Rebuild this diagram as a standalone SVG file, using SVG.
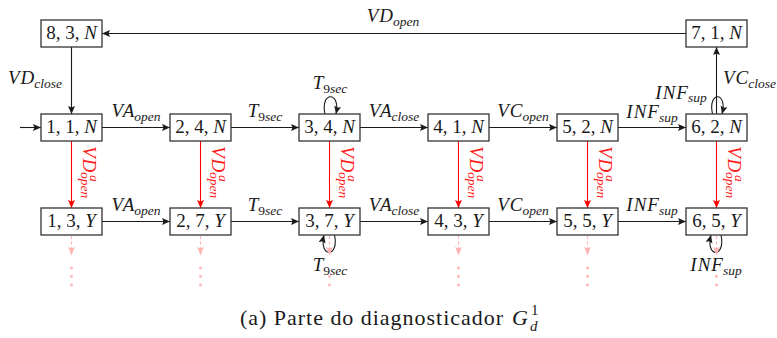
<svg xmlns="http://www.w3.org/2000/svg" width="777" height="338" viewBox="0 0 777 338">
<defs>
<style>
svg text, svg g text, svg text tspan { font-family: "Liberation Serif", "Times New Roman", serif !important; }
</style>
<marker id="ah" markerUnits="userSpaceOnUse" markerWidth="9" markerHeight="8" refX="8" refY="3.5" orient="auto"><path d="M0,0 L8,3.5 L0,7 L1.5,3.5 z" fill="#1a1a1a"/></marker>
<marker id="ahr" markerUnits="userSpaceOnUse" markerWidth="9" markerHeight="8" refX="8" refY="3.5" orient="auto"><path d="M0,0 L8,3.5 L0,7 L1.5,3.5 z" fill="#ff0000"/></marker>
<marker id="ahp" markerUnits="userSpaceOnUse" markerWidth="9" markerHeight="8" refX="8" refY="3.5" orient="auto"><path d="M0,0 L8,3.5 L0,7 L1.5,3.5 z" fill="#ffb3b3"/></marker>
</defs>
<g id="edges">
<g fill="none" stroke="#1a1a1a" stroke-width="1.1" marker-end="url(#ah)">
<line x1="686" y1="33.5" x2="102" y2="33.5"/>
<line x1="71.5" y1="47" x2="71.5" y2="114"/>
<line x1="20" y1="127.5" x2="41" y2="127.5"/>
<line x1="716.5" y1="114" x2="716.5" y2="47"/>
<line x1="102" y1="127.5" x2="170" y2="127.5"/>
<line x1="231" y1="127.5" x2="299" y2="127.5"/>
<line x1="360" y1="127.5" x2="428" y2="127.5"/>
<line x1="489" y1="127.5" x2="557" y2="127.5"/>
<line x1="618" y1="127.5" x2="686" y2="127.5"/>
<line x1="102" y1="221.5" x2="170" y2="221.5"/>
<line x1="231" y1="221.5" x2="299" y2="221.5"/>
<line x1="360" y1="221.5" x2="428" y2="221.5"/>
<line x1="489" y1="221.5" x2="557" y2="221.5"/>
<line x1="618" y1="221.5" x2="686" y2="221.5"/>
<path d="M325,114 C320,91 341,91 336,114"/>
<path d="M712.5,114 C707.5,91 728,91 722,114"/>
<path d="M334.5,235 C339.5,258 318.5,258 324,235"/>
<path d="M721,235 C726,258 705,258 711,235"/>
</g>
<g fill="none" stroke="#ff0000" stroke-width="1.1" marker-end="url(#ahr)">
<line x1="71.5" y1="141" x2="71.5" y2="208"/>
<line x1="200.5" y1="141" x2="200.5" y2="208"/>
<line x1="329.5" y1="141" x2="329.5" y2="208"/>
<line x1="458.5" y1="141" x2="458.5" y2="208"/>
<line x1="587.5" y1="141" x2="587.5" y2="208"/>
<line x1="716.5" y1="141" x2="716.5" y2="208"/>
</g>
<g fill="none" stroke="#ffb3b3" stroke-width="1.1" stroke-dasharray="3 2.5" marker-end="url(#ahp)">
<line x1="71.5" y1="236" x2="71.5" y2="255"/>
<line x1="200.5" y1="236" x2="200.5" y2="255"/>
<line x1="329.5" y1="236" x2="329.5" y2="255"/>
<line x1="458.5" y1="236" x2="458.5" y2="255"/>
<line x1="587.5" y1="236" x2="587.5" y2="255"/>
<line x1="716.5" y1="236" x2="716.5" y2="255"/>
</g>
<g fill="#ffb3b3">
<circle cx="71.5" cy="268" r="1.4"/><circle cx="71.5" cy="276.5" r="1.4"/><circle cx="71.5" cy="285" r="1.4"/>
<circle cx="200.5" cy="268" r="1.4"/><circle cx="200.5" cy="276.5" r="1.4"/><circle cx="200.5" cy="285" r="1.4"/>
<circle cx="329.5" cy="276.5" r="1.4"/><circle cx="329.5" cy="285" r="1.4"/>
<circle cx="458.5" cy="268" r="1.4"/><circle cx="458.5" cy="276.5" r="1.4"/><circle cx="458.5" cy="285" r="1.4"/>
<circle cx="587.5" cy="268" r="1.4"/><circle cx="587.5" cy="276.5" r="1.4"/><circle cx="587.5" cy="285" r="1.4"/>
<circle cx="716.5" cy="276.5" r="1.4"/><circle cx="716.5" cy="285" r="1.4"/>
</g>
</g>

<g id="edge-labels" fill="#1a1a1a" font-size="19" font-family="Liberation Serif">
<text font-family="Liberation Serif" x="393" y="22" text-anchor="middle"><tspan font-style="italic">V</tspan><tspan font-style="italic" dx="1">D</tspan><tspan font-size="13.5" font-style="italic" dy="4">open</tspan></text>
<text font-family="Liberation Serif" x="8" y="84"><tspan font-style="italic">V</tspan><tspan font-style="italic" dx="1">D</tspan><tspan font-size="13.5" font-style="italic" dy="4">close</tspan></text>
<text font-family="Liberation Serif" x="723" y="84"><tspan font-style="italic">V</tspan><tspan font-style="italic" dx="1">C</tspan><tspan font-size="13.5" font-style="italic" dy="4">close</tspan></text>
<text font-family="Liberation Serif" x="136" y="117" text-anchor="middle"><tspan font-style="italic">V</tspan><tspan font-style="italic" dx="1">A</tspan><tspan font-size="13.5" font-style="italic" dy="4">open</tspan></text>
<text font-family="Liberation Serif" x="265" y="117" text-anchor="middle"><tspan font-style="italic">T</tspan><tspan font-size="13.5" dy="4">9</tspan><tspan font-size="13.5" font-style="italic">sec</tspan></text>
<text font-family="Liberation Serif" x="394" y="117" text-anchor="middle"><tspan font-style="italic">V</tspan><tspan font-style="italic" dx="1">A</tspan><tspan font-size="13.5" font-style="italic" dy="4">close</tspan></text>
<text font-family="Liberation Serif" x="523" y="117" text-anchor="middle"><tspan font-style="italic">V</tspan><tspan font-style="italic" dx="1">C</tspan><tspan font-size="13.5" font-style="italic" dy="4">open</tspan></text>
<text font-family="Liberation Serif" x="652" y="118" text-anchor="middle"><tspan font-style="italic">I</tspan><tspan font-style="italic" dx="1">N</tspan><tspan font-style="italic" dx="1">F</tspan><tspan font-size="13.5" font-style="italic" dy="4">sup</tspan></text>
<text font-family="Liberation Serif" x="136" y="211" text-anchor="middle"><tspan font-style="italic">V</tspan><tspan font-style="italic" dx="1">A</tspan><tspan font-size="13.5" font-style="italic" dy="4">open</tspan></text>
<text font-family="Liberation Serif" x="265" y="211" text-anchor="middle"><tspan font-style="italic">T</tspan><tspan font-size="13.5" dy="4">9</tspan><tspan font-size="13.5" font-style="italic">sec</tspan></text>
<text font-family="Liberation Serif" x="394" y="211" text-anchor="middle"><tspan font-style="italic">V</tspan><tspan font-style="italic" dx="1">A</tspan><tspan font-size="13.5" font-style="italic" dy="4">close</tspan></text>
<text font-family="Liberation Serif" x="523" y="211" text-anchor="middle"><tspan font-style="italic">V</tspan><tspan font-style="italic" dx="1">C</tspan><tspan font-size="13.5" font-style="italic" dy="4">open</tspan></text>
<text font-family="Liberation Serif" x="652" y="211" text-anchor="middle"><tspan font-style="italic">I</tspan><tspan font-style="italic" dx="1">N</tspan><tspan font-style="italic" dx="1">F</tspan><tspan font-size="13.5" font-style="italic" dy="4">sup</tspan></text>
<text font-family="Liberation Serif" x="330" y="89" text-anchor="middle"><tspan font-style="italic">T</tspan><tspan font-size="13.5" dy="4">9</tspan><tspan font-size="13.5" font-style="italic">sec</tspan></text>
<text font-family="Liberation Serif" x="681" y="99" text-anchor="middle"><tspan font-style="italic">I</tspan><tspan font-style="italic" dx="1">N</tspan><tspan font-style="italic" dx="1">F</tspan><tspan font-size="13.5" font-style="italic" dy="3">sup</tspan></text>
<text font-family="Liberation Serif" x="330" y="271" text-anchor="middle"><tspan font-style="italic">T</tspan><tspan font-size="13.5" dy="4">9</tspan><tspan font-size="13.5" font-style="italic">sec</tspan></text>
<text font-family="Liberation Serif" x="716" y="271" text-anchor="middle"><tspan font-style="italic">I</tspan><tspan font-style="italic" dx="1">N</tspan><tspan font-style="italic" dx="1">F</tspan><tspan font-size="13.5" font-style="italic" dy="4">sup</tspan></text>
</g>

<g id="diag-labels" fill="#ff1a1a" font-style="italic" font-family="Liberation Serif">
<g transform="translate(83,146) rotate(90)"><text font-family="Liberation Serif" font-size="19">V<tspan dx="1">D</tspan></text><text font-family="Liberation Serif" font-size="13.5" x="29" y="-7">a</text><text font-family="Liberation Serif" font-size="13.5" x="26" y="2.5">open</text></g>
<g transform="translate(212,146) rotate(90)"><text font-family="Liberation Serif" font-size="19">V<tspan dx="1">D</tspan></text><text font-family="Liberation Serif" font-size="13.5" x="29" y="-7">a</text><text font-family="Liberation Serif" font-size="13.5" x="26" y="2.5">open</text></g>
<g transform="translate(341,146) rotate(90)"><text font-family="Liberation Serif" font-size="19">V<tspan dx="1">D</tspan></text><text font-family="Liberation Serif" font-size="13.5" x="29" y="-7">a</text><text font-family="Liberation Serif" font-size="13.5" x="26" y="2.5">open</text></g>
<g transform="translate(470,146) rotate(90)"><text font-family="Liberation Serif" font-size="19">V<tspan dx="1">D</tspan></text><text font-family="Liberation Serif" font-size="13.5" x="29" y="-7">a</text><text font-family="Liberation Serif" font-size="13.5" x="26" y="2.5">open</text></g>
<g transform="translate(599,146) rotate(90)"><text font-family="Liberation Serif" font-size="19">V<tspan dx="1">D</tspan></text><text font-family="Liberation Serif" font-size="13.5" x="29" y="-7">a</text><text font-family="Liberation Serif" font-size="13.5" x="26" y="2.5">open</text></g>
<g transform="translate(728,146) rotate(90)"><text font-family="Liberation Serif" font-size="19">V<tspan dx="1">D</tspan></text><text font-family="Liberation Serif" font-size="13.5" x="29" y="-7">a</text><text font-family="Liberation Serif" font-size="13.5" x="26" y="2.5">open</text></g>
</g>

<g id="nodes" font-size="19" text-anchor="middle" font-family="Liberation Serif">
<g id="n83N"><rect x="41" y="20" width="61" height="27" fill="#fff" stroke="#333" stroke-width="1.3"/><text font-family="Liberation Serif" fill="#1a1a1a" x="71.5" y="39">8, 3, <tspan font-style="italic">N</tspan></text></g>
<g id="n71N"><rect x="686" y="20" width="61" height="27" fill="#fff" stroke="#333" stroke-width="1.3"/><text font-family="Liberation Serif" fill="#1a1a1a" x="716.5" y="39">7, 1, <tspan font-style="italic">N</tspan></text></g>
<g id="n11N"><rect x="41" y="114" width="61" height="27" fill="#fff" stroke="#333" stroke-width="1.3"/><text font-family="Liberation Serif" fill="#1a1a1a" x="71.5" y="133">1, 1, <tspan font-style="italic">N</tspan></text></g>
<g id="n24N"><rect x="170" y="114" width="61" height="27" fill="#fff" stroke="#333" stroke-width="1.3"/><text font-family="Liberation Serif" fill="#1a1a1a" x="200.5" y="133">2, 4, <tspan font-style="italic">N</tspan></text></g>
<g id="n34N"><rect x="299" y="114" width="61" height="27" fill="#fff" stroke="#333" stroke-width="1.3"/><text font-family="Liberation Serif" fill="#1a1a1a" x="329.5" y="133">3, 4, <tspan font-style="italic">N</tspan></text></g>
<g id="n41N"><rect x="428" y="114" width="61" height="27" fill="#fff" stroke="#333" stroke-width="1.3"/><text font-family="Liberation Serif" fill="#1a1a1a" x="458.5" y="133">4, 1, <tspan font-style="italic">N</tspan></text></g>
<g id="n52N"><rect x="557" y="114" width="61" height="27" fill="#fff" stroke="#333" stroke-width="1.3"/><text font-family="Liberation Serif" fill="#1a1a1a" x="587.5" y="133">5, 2, <tspan font-style="italic">N</tspan></text></g>
<g id="n62N"><rect x="686" y="114" width="61" height="27" fill="#fff" stroke="#333" stroke-width="1.3"/><text font-family="Liberation Serif" fill="#1a1a1a" x="716.5" y="133">6, 2, <tspan font-style="italic">N</tspan></text></g>
<g id="n13Y"><rect x="41" y="208" width="61" height="27" fill="#fff" stroke="#333" stroke-width="1.3"/><text font-family="Liberation Serif" fill="#1a1a1a" x="71.5" y="227">1, 3, <tspan font-style="italic">Y</tspan></text></g>
<g id="n27Y"><rect x="170" y="208" width="61" height="27" fill="#fff" stroke="#333" stroke-width="1.3"/><text font-family="Liberation Serif" fill="#1a1a1a" x="200.5" y="227">2, 7, <tspan font-style="italic">Y</tspan></text></g>
<g id="n37Y"><rect x="299" y="208" width="61" height="27" fill="#fff" stroke="#333" stroke-width="1.3"/><text font-family="Liberation Serif" fill="#1a1a1a" x="329.5" y="227">3, 7, <tspan font-style="italic">Y</tspan></text></g>
<g id="n43Y"><rect x="428" y="208" width="61" height="27" fill="#fff" stroke="#333" stroke-width="1.3"/><text font-family="Liberation Serif" fill="#1a1a1a" x="458.5" y="227">4, 3, <tspan font-style="italic">Y</tspan></text></g>
<g id="n55Y"><rect x="557" y="208" width="61" height="27" fill="#fff" stroke="#333" stroke-width="1.3"/><text font-family="Liberation Serif" fill="#1a1a1a" x="587.5" y="227">5, 5, <tspan font-style="italic">Y</tspan></text></g>
<g id="n65Y"><rect x="686" y="208" width="61" height="27" fill="#fff" stroke="#333" stroke-width="1.3"/><text font-family="Liberation Serif" fill="#1a1a1a" x="716.5" y="227">6, 5, <tspan font-style="italic">Y</tspan></text></g>
</g>

<g id="caption" fill="#1a1a1a" font-family="Liberation Serif">
<text font-family="Liberation Serif" x="240" y="325" font-size="22" textLength="263" lengthAdjust="spacing">(a) Parte do diagnosticador</text>
<text font-family="Liberation Serif" x="512" y="325" font-size="22" font-style="italic">G</text>
<text font-family="Liberation Serif" x="531" y="315" font-size="15">1</text>
<text font-family="Liberation Serif" x="530" y="331" font-size="15" font-style="italic">d</text>
</g>
</svg>
